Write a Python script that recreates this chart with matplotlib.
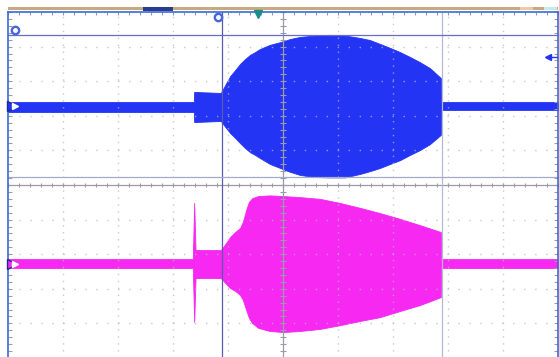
import numpy as np
import matplotlib.pyplot as plt
from matplotlib.patches import Rectangle

# screen is 10 x 10 divisions, trace values below are in divisions
# channel 1 (blue) envelope: time, upper edge, lower edge
ch1_t = [0.0, 3.38, 3.385,
         3.87, 3.95, 4.04, 4.13, 4.22, 4.31, 4.40, 4.49, 4.58, 4.76, 4.95, 5.13,
         5.31, 5.58, 5.85, 6.13, 6.40, 6.58, 6.76, 6.95, 7.13, 7.31, 7.49, 7.67, 7.87,
         7.875, 10.0]
ch1_hi = [2.40, 2.40, 2.69,
          2.66, 2.89, 3.15, 3.32, 3.50, 3.64, 3.76, 3.84, 3.93, 4.05, 4.13, 4.22,
          4.28, 4.32, 4.34, 4.32, 4.25, 4.19, 4.08, 3.96, 3.84, 3.70, 3.55, 3.38, 3.09,
          2.40, 2.40]
ch1_lo = [2.11, 2.11, 1.82,
          1.85, 1.68, 1.50, 1.36, 1.21, 1.07, 0.95, 0.87, 0.78, 0.61, 0.49, 0.38,
          0.29, 0.23, 0.22, 0.22, 0.32, 0.40, 0.49, 0.61, 0.72, 0.87, 1.01, 1.18, 1.45,
          2.17, 2.17]

# channel 2 (magenta) envelope
ch2_t = [0.0, 3.36, 3.385, 3.41, 3.42,
         3.87, 3.95, 4.04, 4.13, 4.22, 4.27, 4.33, 4.38, 4.44, 4.55, 4.76, 5.00,
         5.31, 5.67, 6.04, 6.40, 6.76, 7.13, 7.49, 7.87,
         7.875, 10.0]
ch2_hi = [-2.14, -2.14, -0.52, -1.88, -1.88,
          -1.88, -1.71, -1.50, -1.36, -1.24, -1.07, -0.72, -0.49, -0.38, -0.32, -0.30, -0.32,
          -0.35, -0.40, -0.52, -0.66, -0.81, -0.98, -1.16, -1.36,
          -2.14, -2.14]
ch2_lo = [-2.40, -2.40, -3.96, -2.69, -2.69,
          -2.69, -2.83, -2.98, -3.06, -3.18, -3.32, -3.61, -3.84, -3.99, -4.13, -4.22, -4.25,
          -4.22, -4.16, -4.05, -3.93, -3.82, -3.64, -3.47, -3.24,
          -2.40, -2.40]

ch1_level = 2.28
ch2_level = -2.28
cursor_t = [3.885, 7.89]
cursor_v = [4.335, 0.23]

BLUE = '#2434f4'
MAGENTA = '#f628f2'
GRID = '#b8b8bc'
AXIS = '#9a9aa8'

fig = plt.figure(figsize=(5.59, 3.57), dpi=100)
ax = fig.add_axes([0, 0, 1, 1])
ax.set_xlim(-8 / 55, 551 / 55)
ax.set_ylim(-172 / 34.6, 185 / 34.6)
ax.axis('off')

# traces
ax.fill_between(ch1_t, ch1_lo, ch1_hi, color=BLUE, lw=0.6, zorder=2)
ax.fill_between(ch2_t, ch2_lo, ch2_hi, color=MAGENTA, lw=0.6, zorder=2)

# dotted graticule
for g in range(1, 10):
    if g == 5:
        continue
    ax.plot([g, g], [-5, 5], color=GRID, lw=1.0, ls=(0, (1, 4.0)), zorder=3, alpha=0.75)
for g in range(-4, 5):
    if g == 0:
        continue
    ax.plot([0, 10], [g, g], color=GRID, lw=1.0, ls=(0, (1, 6.9)), zorder=3, alpha=0.75)

# center cross with ticks
ax.plot([0, 10], [0, 0], color=AXIS, lw=0.9, zorder=4)
ax.plot([5, 5], [-5, 5], color=AXIS, lw=0.9, zorder=4)
xt = np.arange(0, 10.01, 0.2)
yt = np.arange(-5, 5.01, 0.2)
ax.vlines(xt, -0.07, 0.07, color=AXIS, lw=0.8, zorder=4)
ax.hlines(yt, 5 - 0.055, 5 + 0.055, color=AXIS, lw=0.8, zorder=4)
# ticks along the frame edges
ax.vlines(xt, 5 - 0.1, 5, color=AXIS, lw=0.8, zorder=4)
ax.hlines(yt, 0, 0.07, color=AXIS, lw=0.8, zorder=4)
ax.hlines(yt, 10 - 0.07, 10, color=AXIS, lw=0.8, zorder=4)

# cursors
ax.plot([cursor_t[0]] * 2, [-5, 5], color='#5a5ab0', lw=0.9, zorder=5)
ax.plot([cursor_t[1]] * 2, [-5, 5], color='#b4b8d0', lw=0.9, zorder=5)
ax.plot([0, 10], [cursor_v[0]] * 2, color='#6a6acc', lw=0.9, zorder=5)
ax.plot([0, 10], [cursor_v[1]] * 2, color='#a4aacc', lw=0.9, zorder=5)

# frame
ax.plot([0, 0], [-5, 5], color='#3a6ad8', lw=1.2, zorder=6)
ax.plot([10, 10], [-5, 5], color='#3a6ad8', lw=1.2, zorder=6)
ax.plot([0, 10], [5, 5], color='#3a6ad8', lw=1.2, zorder=6)

# status strip above the screen
ax.add_patch(Rectangle((0, 5.05), 10, 0.09, color='#c8aa7c', lw=0, zorder=6))
ax.add_patch(Rectangle((2.45, 5.04), 0.55, 0.11, color='#2a3c8c', lw=0, zorder=7))
ax.add_patch(Rectangle((9.3, 5.05), 0.25, 0.09, color='#f0c8a8', lw=0, zorder=7))
ax.add_patch(Rectangle((9.75, 5.05), 0.23, 0.09, color='#c8ecec', lw=0, zorder=7))

# channel ground markers
ax.plot(0.08, ch1_level, marker='>', ms=7, color=BLUE, mec='#1a2a90', zorder=7)
ax.plot(0.12, ch1_level, marker='>', ms=4, color='white', zorder=8)
ax.plot(0.08, ch2_level, marker='>', ms=7, color=MAGENTA, mec='#1a2a90', zorder=7)
ax.plot(0.12, ch2_level, marker='>', ms=4, color='white', zorder=8)

# cursor labels, trigger position and level
ax.plot(0.13, 4.48, marker='o', ms=6, color='#4a66d8', zorder=7)
ax.plot(0.13, 4.48, marker='o', ms=2.5, color='white', zorder=8)
ax.plot(3.82, 4.86, marker='o', ms=6, color='#4a66d8', zorder=7)
ax.plot(3.82, 4.86, marker='o', ms=2.5, color='white', zorder=8)
ax.plot(4.55, 4.93, marker='v', ms=6, color='#1a8c8c', zorder=7)
ax.plot([9.82, 9.98], [3.70, 3.70], color=BLUE, lw=1.0, zorder=7)
ax.plot(9.82, 3.70, marker='<', ms=4, color=BLUE, zorder=7)

fig.savefig('out.png', dpi=100)
